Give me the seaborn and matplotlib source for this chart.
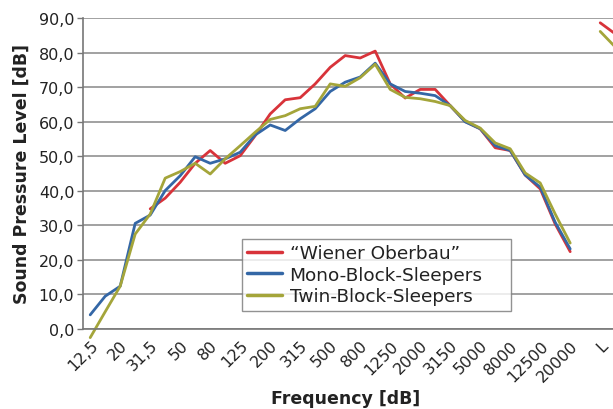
import numpy as np
import pandas as pd
import matplotlib
matplotlib.use("Agg")
import matplotlib.pyplot as plt
import seaborn as sns

# 1/3-Oktavbänder + Summenpegel (rechts abgeschnitten)
bands = ["12,5", "16", "20", "25", "31,5", "40", "50", "63", "80", "100",
         "125", "160", "200", "250", "315", "400", "500", "630", "800", "1000",
         "1250", "1600", "2000", "2500", "3150", "4000", "5000", "6300", "8000",
         "10000", "12500", "16000", "20000", "", "L", "A"]

wiener = [np.nan, np.nan, np.nan, np.nan, 34.8, 37.9, 42.5, 48.0, 51.7, 48.0,
          50.2, 56.0, 62.3, 66.4, 67.0, 71.0, 75.8, 79.2, 78.5, 80.5,
          71.0, 66.9, 69.4, 69.4, 64.7, 60.1, 58.0, 52.5, 51.7,
          44.6, 40.6, 30.4, 22.4, np.nan, 88.7, 85.5]
mono = [4.1, 9.5, 12.4, 30.6, 33.0, 40.1, 44.4, 49.9, 48.0, 49.3,
        51.2, 56.2, 59.1, 57.5, 60.9, 63.8, 68.8, 71.5, 73.0, 77.0,
        71.0, 68.8, 68.3, 67.6, 64.7, 60.0, 58.0, 53.1, 51.7,
        44.6, 41.1, 30.9, 23.2, np.nan, np.nan, np.nan]
twin = [-2.5, 5.0, 12.4, 27.5, 33.3, 43.7, 45.6, 48.0, 44.9, 49.3,
        53.1, 57.0, 60.7, 61.8, 63.8, 64.5, 71.0, 70.3, 72.8, 76.7,
        69.4, 67.1, 66.7, 65.9, 64.7, 60.4, 58.2, 53.9, 52.2,
        45.2, 42.3, 33.3, 24.9, np.nan, 86.2, 81.7]

series_names = ["\u201cWiener Oberbau\u201d", "Mono-Block-Sleepers", "Twin-Block-Sleepers"]
colors = ["#d8333a", "#3467a6", "#a4a53a"]

rows = []
for name, vals in zip(series_names, [wiener, mono, twin]):
    seg = 0
    for i, v in enumerate(vals):
        if np.isnan(v):
            seg += 1
            continue
        rows.append({"pos": i, "value": v, "series": name, "seg": seg})
df = pd.DataFrame(rows)

sns.set_style("white")
plt.rcParams["font.family"] = ["DejaVu Sans"]

fig = plt.figure(figsize=(6.13, 4.1), dpi=100)
W, H = 613, 410
x0, y0, y1 = 82.7, 330.0, 19.3
step = 15.0
aw = len(bands) * step
ah = y0 - y1
ax = fig.add_axes([x0 / W, (H - y0) / H, aw / W, ah / H])

sns.lineplot(data=df, x="pos", y="value", hue="series", units="seg",
             estimator=None, palette=dict(zip(series_names, colors)),
             hue_order=series_names, linewidth=2.0, ax=ax, legend=True)
for ln in ax.lines:
    ln.set_clip_on(False)

ax.set_xlim(-0.5, len(bands) - 0.5)
ax.set_ylim(0, 90)

# y-Achse
yt = np.arange(0, 91, 10)
ax.set_yticks(yt)
ax.set_yticklabels([f"{v:.1f}".replace(".", ",") for v in yt], fontsize=11.5, color="#222222")
ax.yaxis.grid(True, color="#9a9a9a", linewidth=1.3)
ax.set_axisbelow(True)

# x-Achse: Striche zwischen den Kategorien, jede zweite Beschriftung
ax.set_xticks(np.arange(0, len(bands), 2))
ax.set_xticklabels(bands[::2], rotation=45, ha="right", rotation_mode="anchor",
                   fontsize=11.5, color="#222222")
ax.set_xticks(np.arange(-0.5, len(bands), 1), minor=True)
ax.tick_params(axis="x", which="major", length=0, pad=6)
ax.tick_params(axis="x", which="minor", length=4, width=1, color="#777777", direction="out")
ax.tick_params(axis="y", which="major", length=4, width=1, color="#777777", direction="out", left=True, pad=2)

for side in ["top", "right"]:
    ax.spines[side].set_visible(False)
for side in ["left", "bottom"]:
    ax.spines[side].set_color("#777777")
    ax.spines[side].set_linewidth(1.2)

ax.set_xlabel("Frequency [dB]", fontsize=12.5, fontweight="bold", color="#222222")
ax.set_ylabel("Sound Pressure Level [dB]", fontsize=12.5, fontweight="bold", color="#222222")
ax.xaxis.set_label_coords((345.5 - x0) / aw, -(390 - y0) / ah)
ax.yaxis.set_label_coords((31 - x0) / aw, (y0 - 174) / ah)

# Legendenkasten wie im Original (241..511 px, 238..312 px)
lx0, lx1, ly0, ly1 = 241.5, 511.0, 312.0, 238.0
leg = ax.legend(loc="lower left",
                bbox_to_anchor=((lx0 - x0) / aw, (y0 - ly0) / ah,
                                (lx1 - lx0) / aw, (ly0 - ly1) / ah),
                mode="expand", fontsize=13.3, frameon=True, fancybox=False,
                handlelength=1.9, borderpad=0.3, labelspacing=0.2,
                handletextpad=0.4, borderaxespad=0)
leg.get_frame().set_edgecolor("#777777")
leg.get_frame().set_linewidth(1.0)
for t in leg.get_texts():
    t.set_color("#222222")
for lh in leg.get_lines():
    lh.set_linewidth(2.5)

fig.savefig("out.png", dpi=100)
